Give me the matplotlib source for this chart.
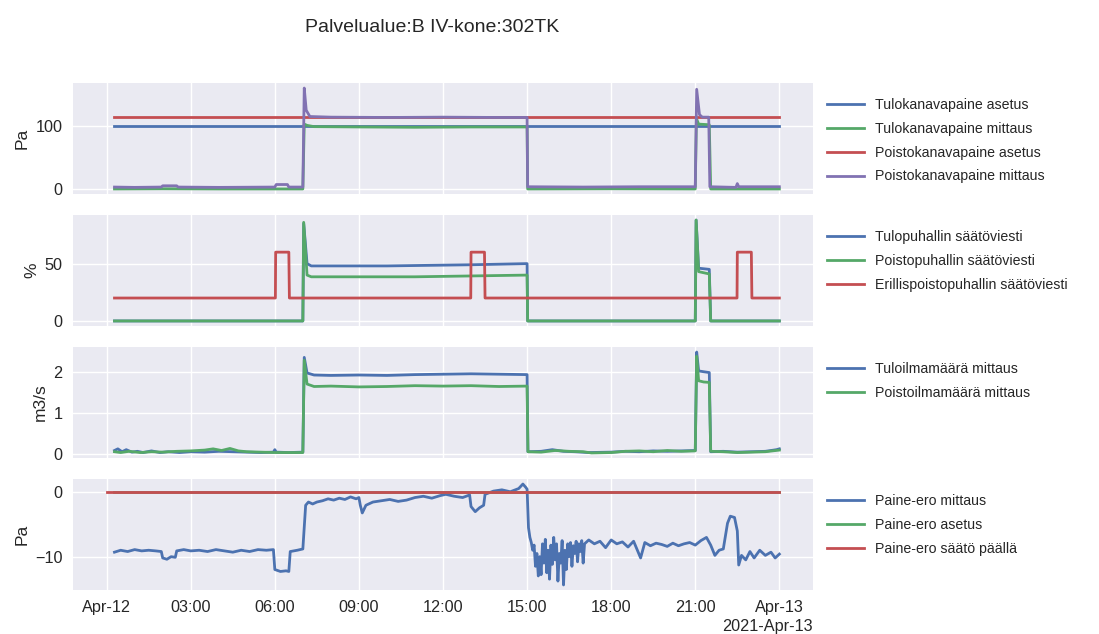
import matplotlib
matplotlib.use("Agg")
import matplotlib.pyplot as plt
import matplotlib.dates as mdates
import pandas as pd

# ---------------------------------------------------------------- data
# Times are hours after 2021-04-12 00:00, values in the series' units.
DAY = pd.Timestamp("2021-04-12")

# Panel 1: duct pressures (Pa)
tulo_asetus_t = [0.28, 24.0]
tulo_asetus_v = [100, 100]

tulo_mittaus_t = [0.28, 2.0, 4.0, 7.0, 7.05, 7.15, 7.4, 9.0, 11.0, 13.0, 15.0,
                  15.02, 18.0, 21.0, 21.04, 21.12, 21.5, 21.55, 24.0]
tulo_mittaus_v = [0.5, 0.8, 0.5, 0.5, 103, 101, 99, 98.5, 98, 98.5, 98.5,
                  0.5, 0.8, 0.5, 112, 103, 102, 0.5, 0.5]

poisto_asetus_t = [0.28, 24.0]
poisto_asetus_v = [113.5, 113.5]

poisto_mittaus_t = [0.28, 1.0, 1.95, 2.0, 2.5, 2.55, 4.0, 6.0, 6.05, 6.45, 6.5,
                    7.0, 7.05, 7.12, 7.25, 8.0, 10.0, 12.0, 14.0, 15.0, 15.02,
                    17.0, 19.0, 21.0, 21.05, 21.15, 21.25, 21.48, 21.52, 22.45,
                    22.5, 22.55, 24.0]
poisto_mittaus_v = [3.5, 3.0, 3.5, 5.5, 5.5, 3.5, 3.0, 3.5, 7.5, 7.5, 3.5,
                    3.5, 160, 125, 115, 114, 113.5, 114, 113.5, 113.5, 4,
                    3.5, 4, 4, 158, 118, 114, 114, 4, 3,
                    9, 4, 4]

# Panel 2: fan control signals (%)
tulopuhallin_t = [0.28, 7.0, 7.03, 7.15, 7.3, 10.0, 13.0, 15.0, 15.02, 21.0,
                  21.03, 21.12, 21.5, 21.55, 24.0]
tulopuhallin_v = [0, 0, 85, 50, 48, 48, 49, 50, 0, 0,
                  88, 46, 45, 0, 0]

poistopuhallin_t = [0.28, 7.0, 7.03, 7.15, 7.3, 11.0, 15.0, 15.02, 21.0,
                    21.03, 21.12, 21.5, 21.55, 24.0]
poistopuhallin_v = [0, 0, 86, 40, 38.5, 38.5, 40, 0, 0,
                    88, 43, 41, 0, 0]

erillis_t = [0.28, 6.02, 6.03, 6.5, 6.52, 12.99, 13.0, 13.48, 13.5, 22.49,
             22.5, 23.0, 23.02, 24.0]
erillis_v = [20, 20, 60, 60, 20, 20, 60, 60, 20, 20,
             60, 60, 20, 20]

# Panel 3: air flows (m3/s)
tuloilma_t = [0.28, 0.4, 0.55, 0.7, 0.9, 1.1, 1.3, 1.6, 1.9, 2.2, 2.6, 3.0,
              3.5, 4.0, 4.5, 5.0, 5.5, 5.95, 6.0, 6.05, 6.5, 7.0, 7.05, 7.15,
              7.4, 8.0, 9.0, 10.0, 11.0, 12.0, 13.0, 14.0, 15.0, 15.03, 15.5,
              15.9, 16.3, 16.7, 17.2, 18.0, 18.5, 19.0, 19.5, 20.0, 20.5,
              21.0, 21.05, 21.12, 21.3, 21.5, 21.55, 22.0, 22.5, 23.0, 23.5,
              23.9, 24.0]
tuloilma_v = [0.08, 0.12, 0.05, 0.10, 0.04, 0.06, 0.03, 0.07, 0.03, 0.05,
              0.03, 0.05, 0.04, 0.06, 0.05, 0.04, 0.03, 0.04, 0.10, 0.04,
              0.03, 0.04, 2.35, 1.97, 1.92, 1.91, 1.92, 1.91, 1.93, 1.94,
              1.95, 1.94, 1.93, 0.05, 0.06, 0.10, 0.06, 0.05, 0.03, 0.04,
              0.06, 0.05, 0.07, 0.06, 0.07, 0.08, 2.48, 2.02, 2.00, 1.98,
              0.05, 0.06, 0.04, 0.05, 0.06, 0.10, 0.12]

poistoilma_t = [0.28, 0.5, 0.8, 1.2, 1.6, 2.0, 2.5, 3.0, 3.5, 3.8, 4.1, 4.4,
                4.7, 5.0, 5.5, 6.0, 6.5, 7.0, 7.05, 7.15, 7.4, 8.0, 9.0, 10.0,
                11.0, 12.0, 13.0, 14.0, 15.0, 15.03, 15.5, 16.0, 16.5, 17.0,
                17.3, 18.0, 18.5, 19.0, 19.5, 20.0, 20.5, 21.0, 21.05, 21.12,
                21.3, 21.5, 21.55, 22.0, 22.5, 23.0, 23.5, 24.0]
poistoilma_v = [0.05, 0.03, 0.06, 0.03, 0.05, 0.04, 0.06, 0.07, 0.09, 0.12,
                0.08, 0.13, 0.07, 0.05, 0.04, 0.03, 0.03, 0.03, 2.28, 1.70,
                1.64, 1.65, 1.63, 1.64, 1.66, 1.65, 1.66, 1.64, 1.65, 0.05,
                0.04, 0.08, 0.06, 0.05, 0.02, 0.03, 0.06, 0.07, 0.05, 0.08,
                0.06, 0.07, 2.38, 1.78, 1.75, 1.74, 0.06, 0.05, 0.03, 0.04,
                0.05, 0.09]

# Panel 4: pressure difference (Pa)
paine_ero_t = [0.28, 0.5, 0.75, 1.0, 1.25, 1.5, 1.75, 1.95, 2.0, 2.15, 2.3,
               2.45, 2.5, 2.75, 3.0, 3.3, 3.6, 3.9, 4.2, 4.5, 4.8, 5.1, 5.4,
               5.7, 5.95, 6.0, 6.2, 6.4, 6.5, 6.55, 6.8, 7.0, 7.1, 7.2, 7.35,
               7.5, 7.7, 7.9, 8.1, 8.3, 8.5, 8.7, 8.9, 9.0, 9.05, 9.12, 9.25,
               9.5, 9.8, 10.1, 10.4, 10.7, 11.0, 11.3, 11.6, 11.9, 12.1, 12.4,
               12.7, 12.95, 13.0, 13.15, 13.3, 13.45, 13.5, 13.8, 14.1, 14.4,
               14.7, 14.85, 14.95, 15.0,
               15.05, 15.1, 15.15, 15.2, 15.25, 15.3, 15.35, 15.4, 15.45, 15.5,
               15.55, 15.6, 15.65, 15.7, 15.75, 15.8, 15.85, 15.9, 15.95, 16.0,
               16.05, 16.1, 16.15, 16.2, 16.25, 16.3, 16.35, 16.4, 16.45, 16.5,
               16.55, 16.6, 16.65, 16.7, 16.75, 16.8, 16.85, 16.9, 16.95, 17.0,
               17.05, 17.2, 17.4, 17.6, 17.8, 18.0, 18.2, 18.4, 18.6, 18.8,
               19.05, 19.2, 19.4, 19.6, 19.8, 20.0, 20.2, 20.4, 20.6, 20.8,
               21.0, 21.2, 21.4, 21.55, 21.7, 21.85, 22.0, 22.15, 22.25, 22.4,
               22.5, 22.55, 22.65, 22.8, 22.95, 23.1, 23.3, 23.5, 23.7, 23.85,
               24.0]
paine_ero_v = [-9.3, -9.0, -9.2, -8.9, -9.1, -9.0, -9.1, -9.2, -10.2, -10.4,
               -10.0, -10.1, -9.1, -8.9, -9.1, -9.0, -9.2, -8.9, -9.1, -9.3,
               -9.0, -9.2, -8.9, -9.0, -8.9, -12.0, -12.3, -12.2, -12.3, -9.2,
               -9.0, -8.8, -2.0, -1.5, -1.8, -1.5, -1.3, -1.0, -1.2, -0.9,
               -1.1, -0.7, -1.0, -0.8, -2.0, -3.2, -2.0, -1.5, -1.3, -1.1,
               -1.4, -1.2, -0.8, -0.6, -0.9, -0.5, -0.3, -0.6, -0.8, -0.4,
               -2.2, -3.0, -2.4, -2.0, -0.3, 0.2, 0.4, 0.1, 0.6, 1.3, 0.8,
               0.5,
               -5.5, -7.0, -7.8, -9.0, -8.2, -11.5, -9.5, -13.0, -10.0, -12.8,
               -8.0, -11.0, -7.3, -12.5, -9.0, -13.5, -8.2, -11.2, -7.0, -10.5,
               -8.0, -13.8, -9.5, -11.0, -7.5, -14.4, -9.0, -12.0, -8.0, -10.0,
               -7.8, -11.5, -8.3, -9.5, -7.6, -10.8, -8.0, -9.2, -7.5, -11.0,
               -8.0, -7.4, -8.0, -7.6, -8.6, -7.4, -8.0, -7.7, -8.5, -7.6,
               -10.2, -7.8, -8.3, -7.9, -8.1, -8.4, -7.9, -8.3, -8.0, -7.8,
               -8.2, -7.5, -7.0, -8.2, -9.8, -9.0, -8.8, -4.8, -3.7, -3.9,
               -6.0, -11.3, -9.8, -10.5, -9.2, -10.2, -9.0, -9.8, -9.3, -10.2,
               -9.6]

paine_ero_asetus_t = [0.28, 24.0]
paine_ero_asetus_v = [0, 0]

saato_paalla_t = [0.0, 24.0]
saato_paalla_v = [0, 0]

# ---------------------------------------------------------------- style
BLUE, GREEN, RED, PURPLE = "#4C72B0", "#55A868", "#C44E52", "#8172B2"

plt.rcParams.update({
    "font.family": ["Liberation Sans", "DejaVu Sans"],
    "axes.facecolor": "#EAEAF2",
    "axes.edgecolor": "white",
    "axes.grid": True,
    "axes.axisbelow": True,
    "grid.color": "white",
    "grid.linewidth": 1.0,
    "xtick.major.size": 0,
    "ytick.major.size": 0,
    "xtick.major.pad": 7,
    "ytick.major.pad": 7.5,
    "xtick.color": ".15",
    "ytick.color": ".15",
    "text.color": ".15",
    "axes.labelcolor": ".15",
    "xtick.labelsize": 11.7,
    "ytick.labelsize": 11.7,
    "axes.labelsize": 12.5,
    "legend.fontsize": 10.2,
    "legend.frameon": False,
    "lines.linewidth": 2.0,
})


def when(hours):
    return DAY + pd.to_timedelta(hours, unit="h")


W, H = 1099, 634
fig = plt.figure(figsize=(W / 100, H / 100), dpi=100)

left_px, right_px = 73, 813
rows_px = [(83, 194), (215, 326), (347, 458), (479, 590)]
axes = []
for i, (top, bot) in enumerate(rows_px):
    rect = [left_px / W, 1 - bot / H, (right_px - left_px) / W, (bot - top) / H]
    ax = fig.add_axes(rect, sharex=axes[0] if axes else None)
    for s in ax.spines.values():
        s.set_visible(False)
    axes.append(ax)

panels = [
    ("Pa", [0, 100], [
        (tulo_asetus_t, tulo_asetus_v, BLUE, "Tulokanavapaine asetus"),
        (tulo_mittaus_t, tulo_mittaus_v, GREEN, "Tulokanavapaine mittaus"),
        (poisto_asetus_t, poisto_asetus_v, RED, "Poistokanavapaine asetus"),
        (poisto_mittaus_t, poisto_mittaus_v, PURPLE, "Poistokanavapaine mittaus"),
    ]),
    ("%", [0, 50], [
        (tulopuhallin_t, tulopuhallin_v, BLUE, "Tulopuhallin säätöviesti"),
        (poistopuhallin_t, poistopuhallin_v, GREEN, "Poistopuhallin säätöviesti"),
        (erillis_t, erillis_v, RED, "Erillispoistopuhallin säätöviesti"),
    ]),
    ("m3/s", [0, 1, 2], [
        (tuloilma_t, tuloilma_v, BLUE, "Tuloilmamäärä mittaus"),
        (poistoilma_t, poistoilma_v, GREEN, "Poistoilmamäärä mittaus"),
    ]),
    ("Pa", [-10, 0], [
        (paine_ero_t, paine_ero_v, BLUE, "Paine-ero mittaus"),
        (paine_ero_asetus_t, paine_ero_asetus_v, GREEN, "Paine-ero asetus"),
        (saato_paalla_t, saato_paalla_v, RED, "Paine-ero säätö päällä"),
    ]),
]

for ax, (ylabel, yticks, series) in zip(axes, panels):
    for t, v, color, label in series:
        ax.plot(when(t), v, color=color, label=label)
    ax.set_ylabel(ylabel)
    ax.set_yticks(yticks)
    ax.legend(loc="upper left", bbox_to_anchor=(1.002, 0.982),
              handlelength=2.6, labelspacing=0.7)

locator = mdates.HourLocator(byhour=range(0, 24, 3))
formatter = mdates.ConciseDateFormatter(locator)
axes[-1].xaxis.set_major_locator(locator)
axes[-1].xaxis.set_major_formatter(formatter)
axes[-1].xaxis.get_offset_text().set_fontsize(11.7)
for ax in axes[:-1]:
    ax.tick_params(labelbottom=False)

fig.text(432 / W, 1 - 27 / H, "Palvelualue:B IV-kone:302TK",
         ha="center", va="center", fontsize=14)

fig.savefig("out.png", dpi=100)
